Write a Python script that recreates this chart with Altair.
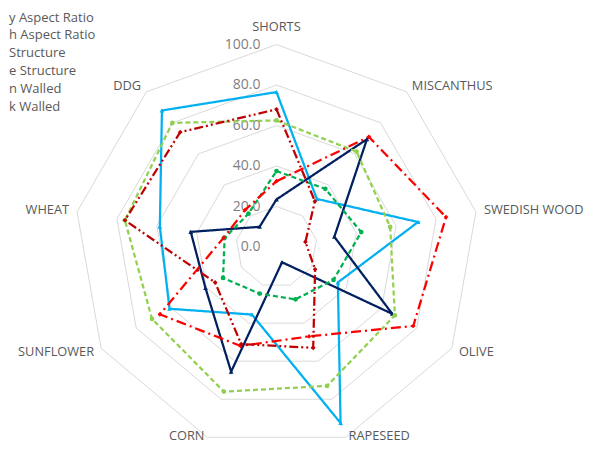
import altair as alt
import pandas as pd

categories = ["SHORTS", "MISCANTHUS", "SWEDISH WOOD", "OLIVE", "RAPESEED",
              "CORN", "SUNFLOWER", "WHEAT", "DDG"]
legend_labels = ["y Aspect Ratio", "h Aspect Ratio", "\u00a0Structure",
                 "e Structure", "n Walled", "k Walled"]

light_blue = [76.5, 31, 71, 35, 92.5, 35.5, 61, 58.5, 88]
navy = [23.5, 69.5, 29, 66, 8, 65.5, 40.5, 43, 13]
light_green = [62.5, 61.5, 57, 67.5, 73, 76, 71, 76, 80]
green = [37.5, 37.5, 42.5, 32.5, 27.5, 24.5, 30.5, 26, 21.5]
red = [32.5, 71, 85, 78, 47, 52, 66.5, 26.5, 24]
dark_red = [68, 29.5, 14.5, 22, 53, 51, 35, 76, 74]

series_values = [light_blue, navy, light_green, green, red, dark_red]
series_colors = ["#00B0F0", "#002060", "#92D050", "#00B050", "#FF0000", "#C00000"]
series_dashes = [[1, 0], [1, 0], [5, 3], [5, 3], [10, 4, 2, 4], [9, 3, 2, 3, 2, 3]]
series_shapes = ["triangle-up", "triangle-up", "circle", "circle", "diamond", "diamond"]

ring_levels = [20, 40, 60, 80, 100]
tick_values = [0, 20, 40, 60, 80, 100]
tick_labels = ["0.0", "20.0", "40.0", "60.0", "80.0", "100.0"]

n = len(categories)

rows = []
for name, vals in zip(legend_labels, series_values):
    for i in range(n + 1):
        rows.append({"series": name, "idx": i, "category": categories[i % n],
                     "value": vals[i % n]})
df = pd.DataFrame(rows)

ring_rows = []
for lv in ring_levels:
    for i in range(n + 1):
        ring_rows.append({"level": lv, "idx": i, "value": lv})
df_rings = pd.DataFrame(ring_rows)

df_cats = pd.DataFrame({"category": categories, "idx": list(range(n))})
df_ticks = pd.DataFrame({"value": tick_values, "label": tick_labels})

x_scale = alt.Scale(domain=[-100, 100], range=[66, 471])
y_scale = alt.Scale(domain=[-100, 100], range=[441.5, 36.5])

def polar(chart, radius_expr="datum.value"):
    return chart.transform_calculate(
        angle=f"datum.idx * 2 * PI / {n}"
    ).transform_calculate(
        px=f"({radius_expr}) * sin(datum.angle)",
        py=f"({radius_expr}) * cos(datum.angle)",
        sx="sin(datum.angle)",
        cy="cos(datum.angle)",
    )

X = alt.X("px:Q", scale=x_scale, axis=None)
Y = alt.Y("py:Q", scale=y_scale, axis=None)

rings = polar(alt.Chart(df_rings)).mark_line(
    color="#d9d9d9", strokeWidth=1
).encode(x=X, y=Y, detail="level:N", order=alt.Order("idx:Q"))

color_enc = alt.Color(
    "series:N",
    scale=alt.Scale(domain=legend_labels, range=series_colors),
    legend=alt.Legend(
        orient="none", legendX=-16, legendY=3, title=None, direction="vertical",
        symbolType="stroke", symbolSize=25, symbolStrokeWidth=2,
        labelFont="Open Sans", labelFontSize=13, labelColor="#595959",
        rowPadding=3.8, labelOffset=4, labelLimit=0, padding=0,
    ),
)

lines = polar(alt.Chart(df)).mark_line(strokeWidth=2.25).encode(
    x=X, y=Y,
    color=color_enc,
    strokeDash=alt.StrokeDash("series:N",
                              scale=alt.Scale(domain=legend_labels, range=series_dashes),
                              legend=None),
    order=alt.Order("idx:Q"),
)

points = polar(alt.Chart(df)).transform_filter(f"datum.idx < {n}").mark_point(
    filled=True, opacity=1, size=22
).encode(
    x=X, y=Y,
    color=alt.Color("series:N", scale=alt.Scale(domain=legend_labels, range=series_colors)),
    shape=alt.Shape("series:N", scale=alt.Scale(domain=legend_labels, range=series_shapes),
                    legend=None),
)

label_base = polar(alt.Chart(df_cats), radius_expr="104")

lab_style = dict(font="Open Sans", fontSize=12.8, color="#595959", baseline="middle")

cat_right = label_base.transform_filter("datum.sx > 0.1 && datum.cy > -0.9").mark_text(
    align="left", **lab_style).encode(x=X, y=Y, text="category:N")
cat_left = label_base.transform_filter("datum.sx < -0.1 && datum.cy > -0.9").mark_text(
    align="right", **lab_style).encode(x=X, y=Y, text="category:N")
cat_top = label_base.transform_filter("abs(datum.sx) <= 0.1").mark_text(
    align="center", dy=-9, **lab_style).encode(x=X, y=Y, text="category:N")

# bottom labels: keep them inside the drawing area
bot_base = alt.Chart(df_cats).transform_calculate(
    angle=f"datum.idx * 2 * PI / {n}"
).transform_calculate(
    px="104 * sin(datum.angle)", py="-96.6", sx="sin(datum.angle)", cy="cos(datum.angle)"
).transform_filter("datum.cy <= -0.9")
bot_style = dict(lab_style, baseline="bottom")
cat_bot_r = bot_base.transform_filter("datum.sx > 0").mark_text(
    align="left", **bot_style).encode(x=X, y=Y, text="category:N")
cat_bot_l = bot_base.transform_filter("datum.sx < 0").mark_text(
    align="right", **bot_style).encode(x=X, y=Y, text="category:N")

ticks = alt.Chart(df_ticks).transform_calculate(px="0", py="datum.value").mark_text(
    align="right", baseline="middle", dx=-16, font="Open Sans", fontSize=14,
    color="#7f7f7f"
).encode(x=X, y=Y, text="label:N")

chart = alt.layer(rings, ticks, lines, points, cat_right, cat_left, cat_top,
                  cat_bot_r, cat_bot_l).properties(
    width=576, height=435, autosize=alt.AutoSizeParams(type="none"), padding=0
).configure_view(stroke=None)

chart.save("out.html", embed_options={"renderer": "svg", "actions": False})
